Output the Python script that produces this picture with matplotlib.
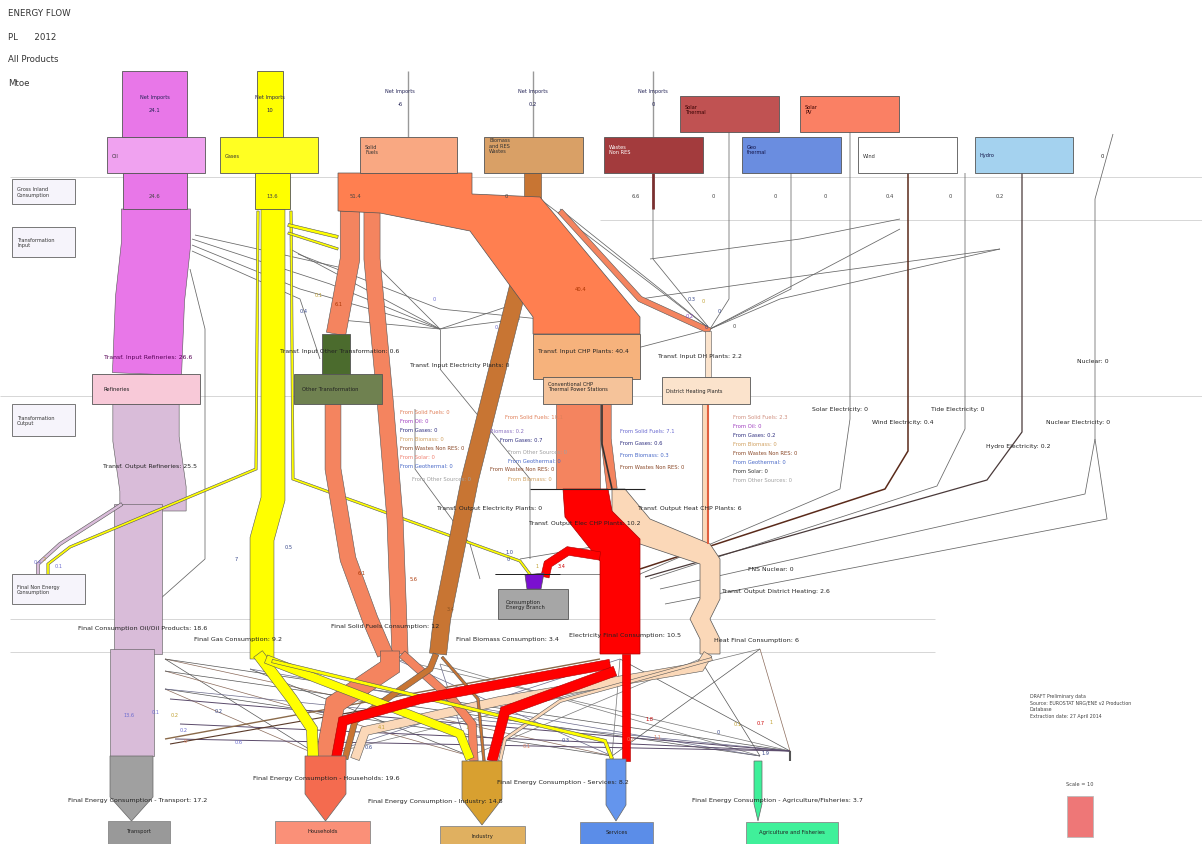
import numpy as np
import matplotlib
matplotlib.use("Agg")
import matplotlib.pyplot as plt
from matplotlib.patches import Polygon, Rectangle

# ---------------- data ----------------
SCALE = 2.6  # px per Mtoe (Scale = 10)
header_lines = ["ENERGY FLOW", "PL      2012", "All Products", "Mtoe"]
row_labels = ["Gross Inland\nConsumption", "Transformation\nInput",
              "Transformation\nOutput", "Final Non Energy\nConsumption"]
source_names = ["Oil", "Gases", "Solid\nFuels", "Biomass\nand RES\nWastes",
                "Wastes\nNon RES", "Solar\nThermal", "Geo\nthermal",
                "Solar\nPV", "Wind", "Hydro"]
net_imports = [24.1, 10, -6, 0.2, 0]
gross_inland_labels = ["24.6", "13.6", "51.4", "0", "6.6", "0", "0", "0", "0.4", "0", "0.2"]
transf_input = {"Refineries": 26.6, "Other Transformation": 0.6,
                "Electricity Plants": 0, "CHP Plants": 40.4, "DH Plants": 2.2}
transf_output = {"Refineries": 25.5, "Electricity Plants": 0,
                 "Elec CHP Plants": 10.2, "Heat CHP Plants": 6,
                 "District Heating": 2.6}
renew_elec = {"Solar Electricity": 0, "Tide Electricity": 0, "Wind Electricity": 0.4,
              "Nuclear Electricity": 0, "Hydro Electricity": 0.2, "Nuclear": 0}
final_by_fuel = {"Oil/Oil Products": 18.6, "Gas": 9.2, "Solid Fuels": 12,
                 "Biomass": 3.4, "Electricity": 10.5, "Heat": 6}
sectors = ["Transport", "Households", "Industry", "Services", "Agriculture and Fisheries"]
sector_label = ["Transport", "Households", "Industry", "Services", "Agriculture/Fisheries"]
sector_values = [17.2, 19.6, 14.8, 8.2, 3.7]
flow_values = {
    "oil_in": 26.6, "oil_out": 25.5, "oil_final": 18.6, "oil_transport": 17.2,
    "oil_nonen": 1.2, "gas_main": 9.2, "gas_side": 0.9, "gas_chp": 1.2,
    "gas_hh": 4.2, "gas_ind": 3.3, "gas_serv": 1.3,
    "solid_chp": 40.4, "solid_dh": 2.2, "solid_a_in": 7.5, "solid_a_out": 6.1, "solid_b": 6.2,
    "solid_hh": 7.4, "solid_ind": 3.2, "bio": 6.6, "bio_hh": 2.3, "bio_ind": 1.0,
    "el_hh": 3.6, "el_ind": 3.8, "el_serv": 3.0, "el_ceb": 3.2,
    "heat_dh": 2.2, "heat_final": 6, "heat_hh": 3.5, "heat_ind": 1.2,
    "chp_solid_out": 17.0, "chp_side": 4.0, "agri": 3.7,
}
from_lists = {
    "elec": ["From Solid Fuels: 0", "From Oil: 0", "From Gases: 0", "From Biomass: 0",
             "From Wastes Non RES: 0", "From Solar: 0", "From Geothermal: 0",
             "From Other Sources: 0"],
    "chp_el": ["From Solid Fuels: 10.1", "Biomass: 0.2", "From Gases: 0.7",
               "From Other Sources: 0", "From Geothermal: 0",
               "From Wastes Non RES: 0", "From Biomass: 0"],
    "chp_heat": ["From Solid Fuels: 7.1", "From Gases: 0.6", "From Biomass: 0.3",
                 "From Wastes Non RES: 0"],
    "dh": ["From Solid Fuels: 2.3", "From Oil: 0", "From Gases: 0.2", "From Biomass: 0",
           "From Wastes Non RES: 0", "From Geothermal: 0", "From Solar: 0",
           "From Other Sources: 0"],
}
from_colors = ["#e0805a", "#a040c0", "#303080", "#d0a060", "#8b4a2a",
               "#f08070", "#4a6ac8", "#a0a0a0"]
source_note = ["DRAFT Preliminary data", "Source: EUROSTAT NRG/ENE v2 Production",
               "Database", "Extraction date: 27 April 2014"]

# ---------------- helpers ----------------
fig = plt.figure(figsize=(12.02, 8.45), dpi=100)
ax = fig.add_axes([0, 0, 1, 1])
ax.set_xlim(0, 1202)
ax.set_ylim(845, 0)
ax.axis("off")

def band(pts, value, color, ec="#555555", lw=0.4, z=2):
    w = value * SCALE
    p = np.array(pts, float)
    n = len(p)
    L, R = [], []
    for i in range(n):
        if i == 0:
            d = p[1] - p[0]
        elif i == n - 1:
            d = p[-1] - p[-2]
        else:
            d1 = p[i] - p[i - 1]; d1 /= np.linalg.norm(d1)
            d2 = p[i + 1] - p[i]; d2 /= np.linalg.norm(d2)
            d = d1 + d2
        d = d / np.linalg.norm(d)
        nr = np.array([-d[1], d[0]])
        s = 1.0
        if 0 < i < n - 1:
            seg = p[i] - p[i - 1]; seg /= np.linalg.norm(seg)
            sn = np.array([-seg[1], seg[0]])
            s = 1.0 / max(0.4, abs(np.dot(nr, sn)))
        L.append(p[i] + nr * w / 2 * s)
        R.append(p[i] - nr * w / 2 * s)
    poly = np.vstack([L, R[::-1]])
    ax.add_patch(Polygon(poly, closed=True, fc=color, ec=ec, lw=lw, zorder=z))

def rect(x, y, w, h, fc, ec="#555555", lw=0.6, z=3):
    ax.add_patch(Rectangle((x, y), w, h, fc=fc, ec=ec, lw=lw, zorder=z))

def poly(pts, fc, ec="#555555", lw=0.5, z=3):
    ax.add_patch(Polygon(pts, closed=True, fc=fc, ec=ec, lw=lw, zorder=z))

def txt(x, y, s, size=4.4, color="#222222", ha="left", va="center", z=6, **kw):
    ax.text(x, y, s, fontsize=size, color=color, ha=ha, va=va, zorder=z,
            family="DejaVu Sans", **kw)

def line(pts, color="#555555", lw=0.6, z=1.5):
    p = np.array(pts, float)
    ax.plot(p[:, 0], p[:, 1], color=color, lw=lw, zorder=z, solid_capstyle="butt")

# ---------------- background separators ----------------
for y, x0, x1 in [(178, 10, 1202), (221, 600, 1202), (397, 0, 1202),
                  (620, 10, 935), (653, 10, 935)]:
    line([(x0, y), (x1, y)], color="#d0d0d0", lw=0.6, z=0.5)

# header
for i, s in enumerate(header_lines):
    txt(8, 14 + i * 23, s, size=6.2, color="#333333")

# row label boxes
for (x, y, w, h), s in zip([(12, 180, 63, 25), (12, 228, 63, 30),
                            (12, 405, 63, 32), (12, 575, 73, 30)], row_labels):
    rect(x, y, w, h, "#f6f4fb", ec="#777777", lw=0.7)
    txt(x + 5, y + h / 2, s, size=3.6, color="#333333")

# ---------------- thin grey network lines ----------------
thin = [
    [(192, 240), (330, 285), (440, 330)], [(192, 246), (300, 290), (440, 330)],
    [(195, 236), (338, 268)], [(192, 252), (300, 300), (320, 360)],
    [(190, 270), (205, 330), (205, 560), (160, 600)],
    [(290, 250), (440, 330)], [(298, 255), (440, 310), (540, 320)],
    [(380, 270), (440, 330)], [(440, 330), (530, 300)], [(440, 330), (520, 320)],
    [(440, 330), (440, 370)], [(440, 330), (330, 320)],
    [(540, 200), (710, 330)], [(560, 210), (710, 330)],
    [(653, 210), (653, 260), (710, 330)], [(729, 133), (729, 300), (710, 330)],
    [(791, 174), (791, 290), (710, 330)], [(900, 230), (710, 330)],
    [(650, 260), (800, 240), (900, 220)], [(640, 300), (780, 280), (1000, 250)],
    [(710, 330), (780, 300), (1000, 250)],
    [(595, 360), (710, 330)],
    [(850, 133), (850, 420), (840, 490), (640, 575)],
    [(965, 174), (965, 430), (937, 487), (650, 580)],
    [(1095, 200), (1095, 440), (1085, 495), (660, 590)],
    [(1095, 440), (1107, 520), (665, 605)],
    [(1113, 135), (1095, 200)],
    [(415, 410), (415, 470), (470, 545), (480, 580)],
    [(440, 370), (530, 480), (530, 560)],
    [(520, 560), (640, 540)], [(495, 575), (640, 575)],
    [(580, 490), (640, 490)],
]
for pts in thin:
    line(pts, color="#666666", lw=0.55)
line([(908, 174), (908, 452), (885, 490), (640, 570)], color="#5a2a1a", lw=1.1)
line([(1022, 174), (1022, 433), (987, 481), (645, 578)], color="#4a3a3a", lw=0.9)
line([(653, 174), (653, 210)], color="#7a3030", lw=2)

# bottom fan lines
fan_src = [(165, 660), (165, 672), (165, 690), (250, 670), (395, 660), (440, 665),
           (620, 660), (700, 660), (760, 650)]
fan_dst = [(320, 757), (470, 757), (612, 757), (760, 757), (790, 752)]
fan_cols = ["#555555", "#6a6a8a", "#8a6a5a", "#777777", "#555555"]
for i, s in enumerate(fan_src):
    for j, d in enumerate(fan_dst):
        if (i + j) % 2 == 0:
            line([s, d], color=fan_cols[(i + j) % 5], lw=0.5)
for s in [(170, 700), (175, 740), (180, 725)]:
    line([s, (790, 752)], color="#5a4a6a", lw=0.7)
line([(165, 740), (600, 660)], color="#8a6a4a", lw=1.0)
line([(170, 745), (600, 670)], color="#5a3a2a", lw=0.8)

# ---------------- oil ----------------
rect(122, 72, 65, 66, "#e877e8")
rect(107, 138, 98, 36, "#f0a2f0")
rect(123, 174, 64, 36, "#e877e8")
band([(156, 210), (156, 245), (150, 300), (147, 375)], flow_values["oil_in"], "#e877e8")
rect(92, 375, 108, 30, "#f8c9d8")
band([(146, 405), (146, 440), (153, 490), (153, 512)], flow_values["oil_out"], "#d9bcd9")
band([(138, 505), (138, 655)], flow_values["oil_final"], "#d9bcd9")
band([(132, 650), (132, 757)], flow_values["oil_transport"], "#d9bcd9")
band([(122, 505), (60, 545), (38, 565), (38, 578)], flow_values["oil_nonen"], "#d9bcd9")

# ---------------- gases ----------------
rect(257, 72, 26, 66, "#ffff00")
rect(220, 138, 98, 36, "#ffff22")
rect(255, 174, 35, 36, "#ffff00")
band([(258, 212), (256, 470), (70, 548), (48, 565), (48, 578)], flow_values["gas_side"], "#ffff00")
band([(291, 212), (293, 480), (520, 562), (532, 578)], flow_values["gas_side"], "#ffff00")
band([(288, 226), (338, 238)], flow_values["gas_chp"], "#ffff00")
band([(288, 234), (338, 250)], flow_values["gas_side"], "#ffff00")
band([(273, 210), (273, 500), (262, 540), (262, 660)], flow_values["gas_main"], "#ffff00")
band([(258, 655), (292, 700), (312, 730), (313, 760)], flow_values["gas_hh"], "#ffff00", z=2.6)
band([(266, 660), (460, 735), (470, 760)], flow_values["gas_ind"], "#ffff00", z=2.6)
band([(272, 662), (605, 742), (612, 760)], flow_values["gas_serv"], "#ffff00", z=2.6)

# ---------------- solid fuels ----------------
rect(360, 138, 97, 36, "#f9a882")
band([(560, 212), (640, 300), (710, 332)], flow_values["solid_dh"], "#f4845f", z=2.3)
poly([(338, 174), (472, 174), (472, 195), (540, 198), (640, 318), (640, 335),
      (533, 335), (533, 318), (470, 232), (380, 214), (338, 212)], "#ff7f50", z=2.4)
band([(350, 212), (350, 260), (336, 335)], flow_values["solid_a_in"], "#f4845f")
band([(372, 212), (372, 260), (385, 400), (395, 520), (400, 655)], flow_values["solid_b"], "#f4845f")
band([(333, 405), (333, 470), (348, 560), (370, 620), (385, 655)], flow_values["solid_a_out"], "#f4845f")
band([(390, 652), (390, 668), (335, 705), (325, 760)], flow_values["solid_hh"], "#f4845f", z=2.5)
band([(402, 655), (452, 700), (472, 725), (474, 762)], flow_values["solid_ind"], "#f4845f", z=2.5)
rect(322, 335, 28, 40, "#4b6b2d")
rect(294, 375, 88, 30, "#6f8150")

# ---------------- biomass ----------------
rect(484, 138, 99, 36, "#d9a066")
band([(533, 174), (533, 212), (520, 280), (470, 480), (442, 620), (438, 655)], flow_values["bio"], "#c87533")
band([(436, 655), (430, 670), (355, 722), (345, 760)], flow_values["bio_hh"], "#c87533", z=2.5)
band([(442, 658), (478, 700), (484, 762)], flow_values["bio_ind"], "#c87533", z=2.5)

# ---------------- other sources ----------------
rect(604, 138, 99, 36, "#a33b3d")
rect(680, 97, 99, 36, "#c05252")
rect(742, 138, 99, 36, "#6a8de0")
rect(800, 97, 99, 36, "#fa8064")
rect(858, 138, 99, 36, "#ffffff")
rect(975, 138, 98, 36, "#a4d2ef")

# ---------------- CHP & DH ----------------
rect(533, 335, 107, 45, "#f6b27c")
rect(543, 378, 89, 27, "#f5c39a")
band([(578, 405), (578, 490)], flow_values["chp_solid_out"], "#f4845f")
band([(606, 405), (606, 440), (612, 490)], flow_values["chp_side"], "#f4845f")
line([(602, 405), (602, 445), (612, 490)], color="#333333", lw=1.2, z=2.2)
# DH input column
band([(708, 332), (708, 378)], flow_values["heat_dh"], "#fbe3cc", z=2.3)
# heat (peach)
poly([(612, 490), (625, 490), (650, 520), (710, 545), (720, 560), (720, 600),
      (710, 620), (720, 640), (720, 655), (700, 655), (700, 640), (690, 620),
      (700, 600), (700, 565), (640, 545), (612, 515)], "#fbd8b8", z=2.2)
band([(705, 405), (705, 545)], flow_values["heat_dh"], "#fbd8b8")
line([(708, 405), (708, 545)], color="#e06040", lw=1.5, z=2.3)
rect(662, 378, 88, 27, "#fbe3cc")
band([(708, 655), (700, 668), (500, 702), (365, 732), (355, 760)], flow_values["heat_hh"], "#fbd8b8", z=2.3)
band([(712, 660), (560, 702), (505, 740), (500, 762)], flow_values["heat_ind"], "#fbd8b8", z=2.3)
# electricity (red)
poly([(563, 490), (608, 490), (612, 512), (640, 540), (640, 655), (600, 655),
      (600, 562), (565, 518)], "#ff0000", ec="#aa0000", z=2.7)
band([(600, 557), (568, 552), (548, 565), (545, 578)], flow_values["el_ceb"], "#ff0000", ec="#aa0000", z=2.7)
band([(610, 665), (420, 700), (343, 722), (336, 760)], flow_values["el_hh"], "#ff0000", ec="#aa0000", z=2.7)
band([(615, 672), (505, 712), (492, 762)], flow_values["el_ind"], "#ff0000", ec="#aa0000", z=2.7)
band([(626, 655), (626, 762)], flow_values["el_serv"], "#ff0000", ec="#aa0000", z=2.7)
line([(530, 490), (645, 490)], color="#222222", lw=0.8, z=2.8)
# consumption energy branch
rect(498, 590, 70, 30, "#a6a6a6")
poly([(525, 576), (544, 574), (541, 590), (527, 590)], "#7a10d0", z=3)
line([(495, 575), (560, 575)], color="#222222", lw=0.7, z=3)
txt(506, 605, "Consumption\nEnergy Branch", size=3.8)

# ---------------- sector arrows ----------------
arrows = [(110, 153, 757, 798, 822, "#a0a0a0"), (305, 346, 757, 795, 822, "#f46b4f"),
          (462, 502, 762, 800, 826, "#d8a030"), (606, 626, 760, 806, 822, "#6495ed"),
          (754, 762, 762, 805, 822, "#3ef09a")]
for (x0, x1, y0, y1, yt, c) in arrows:
    poly([(x0, y0), (x1, y0), (x1, y1), ((x0 + x1) / 2, yt), (x0, y1)], c, ec="#666666")
boxes = [(108, 822, 62, 23, "#999999"), (275, 822, 95, 23, "#fa9078"),
         (440, 827, 85, 18, "#e0b060"), (580, 823, 73, 22, "#5b8de8"),
         (746, 823, 92, 22, "#40f09a")]
for (x, y, w, h, c), s in zip(boxes, sectors):
    rect(x, y, w, h, c, ec="#888888")
    txt(x + w / 2, y + 10, s, size=3.8, ha="center")
line([(790, 752), (790, 762)], color="#555555", lw=1.5)

# ---------------- text labels ----------------
ni_pos = [(155, 98), (270, 98), (400, 92), (533, 92), (653, 92)]
for (x, y), v in zip(ni_pos, net_imports):
    txt(x, y, "Net Imports", size=3.6, ha="center", color="#222255")
    txt(x, y + 12, str(v), size=3.8, ha="center", color="#222255")
for x in [408, 533, 653]:
    line([(x, 72), (x, 138)], color="#999999", lw=1.0, z=1)
src_txt = [(112, 156), (225, 156), (365, 150), (489, 146), (609, 150), (685, 110),
           (747, 150), (805, 110), (863, 156), (980, 156)]
src_col = ["#333333", "#333333", "#333333", "#333333", "#ffffff", "#330000",
           "#111144", "#330000", "#333333", "#111144"]
for (x, y), s, c in zip(src_txt, source_names, src_col):
    txt(x, y, s, size=3.6, color=c, va="center")
gi_x = [155, 272, 355, 506, 636, 713, 775, 825, 890, 950, 1000]
for x, s in zip(gi_x, gross_inland_labels):
    txt(x, 196, s, size=3.8, ha="center", color="#444444")
txt(1102, 157, "0", size=3.8, ha="center")

txt(148, 358, "Transf. Input Refineries: %g" % transf_input["Refineries"], color="#550055", ha="center")
txt(340, 352, "Transf. Input Other Transformation: %g" % transf_input["Other Transformation"], ha="center")
txt(460, 366, "Transf. Input Electricity Plants: %g" % transf_input["Electricity Plants"], ha="center")
txt(583, 352, "Transf. Input CHP Plants: %g" % transf_input["CHP Plants"], ha="center")
txt(700, 357, "Transf. Input DH Plants: %g" % transf_input["DH Plants"], ha="center")
txt(575, 290, "40.4", size=3.8, color="#aa3300")
txt(103, 390, "Refineries", size=3.8)
txt(302, 390, "Other Transformation", size=3.8)
txt(548, 387, "Conventional CHP\nThermal Power Stations", size=3.6)
txt(666, 392, "District Heating Plants", size=3.6)

txt(150, 467, "Transf. Output Refineries: %g" % transf_output["Refineries"], ha="center")
txt(490, 509, "Transf. Output Electricity Plants: %g" % transf_output["Electricity Plants"], ha="center")
txt(585, 524, "Transf. Output Elec CHP Plants: %g" % transf_output["Elec CHP Plants"], ha="center")
txt(690, 509, "Transf. Output Heat CHP Plants: %g" % transf_output["Heat CHP Plants"], ha="center")
txt(776, 592, "Transf. Output District Heating: %g" % transf_output["District Heating"], ha="center")
txt(771, 570, "FNS Nuclear: 0", ha="center")

rpos = [(840, 410), (958, 410), (903, 423), (1078, 423), (1018, 447), (1093, 362)]
for (x, y), (k, v) in zip(rpos, renew_elec.items()):
    txt(x, y, "%s: %g" % (k, v), ha="center")

for i, s in enumerate(from_lists["elec"]):
    txt(400 + (12 if i == 7 else 0), 413 + i * 9 + (4 if i == 7 else 0), s, size=3.8, color=from_colors[i])
chp_pos = [(505, 418), (490, 432), (500, 441), (508, 453), (508, 462), (490, 470), (508, 480)]
chp_cols = ["#e0805a", "#8a70c0", "#303080", "#a0a0a0", "#4a6ac8", "#8b4a2a", "#d0a060"]
for (x, y), s, c in zip(chp_pos, from_lists["chp_el"], chp_cols):
    txt(x, y, s, size=3.8, color=c)
for i, s in enumerate(from_lists["chp_heat"]):
    txt(620, 432 + i * 12, s, size=3.8, color=["#6a6ad0", "#303080", "#4a6ac8", "#8b4a2a"][i])
dh_cols = ["#d09080", "#a040c0", "#303080", "#d0a060", "#8b4a2a", "#4a6ac8", "#333333", "#a0a0a0"]
for i, s in enumerate(from_lists["dh"]):
    txt(733, 418 + i * 9, s, size=3.8, color=dh_cols[i])

fin_pos = [(143, 629), (238, 640), (385, 627), (507, 640), (625, 636), (757, 641)]
fin_fmt = ["Final Consumption %s: %g", "Final %s Consumption: %g",
           "Final %s Consumption: %g", "Final %s Consumption: %g",
           "%s Final Consumption: %g", "%s Final Consumption: %g"]
for (x, y), f, (k, v) in zip(fin_pos, fin_fmt, final_by_fuel.items()):
    txt(x, y, f % (k, v), size=4.6, ha="center")

sec_pos = [(138, 801), (326, 779), (435, 802), (563, 783), (777, 801)]
for (x, y), s, v in zip(sec_pos, sector_label, sector_values):
    txt(x, y, "Final Energy Consumption - %s: %g" % (s, v), size=4.6, ha="center")

small_nums = [(300, 312, "0.4", "#334488"), (315, 296, "0.1", "#c0a030"), (335, 305, "6.1", "#aa3300"),
              (433, 300, "0", "#6a6ad0"), (495, 328, "0", "#6a6ad0"), (688, 300, "0.3", "#334488"),
              (702, 302, "0", "#c0a030"), (718, 312, "0", "#334488"), (686, 317, "0.2", "#8a40c0"),
              (705, 328, "0", "#334488"), (733, 327, "0", "#444444"),
              (34, 563, "0.4", "#6a6ad0"), (43, 560, "2", "#c0a030"), (55, 567, "0.1", "#6a6ad0"),
              (235, 560, "7", "#334488"), (285, 548, "0.5", "#334488"), (358, 574, "6.1", "#aa3300"),
              (410, 580, "5.6", "#aa3300"), (447, 610, "3.4", "#8a5020"), (506, 553, "1.0", "#334488"),
              (507, 560, "0", "#334488"), (535, 567, "1", "#c0a030"), (558, 567, "3.4", "#cc0000"),
              (123, 716, "13.6", "#6a6ad0"), (152, 713, "0.1", "#6a6ad0"), (171, 716, "0.2", "#c0a030"),
              (180, 731, "0.2", "#6a6ad0"), (184, 742, "0", "#e08060"), (235, 743, "0.6", "#6a6ad0"),
              (365, 748, "0.6", "#334488"), (378, 728, "4.1", "#c0a030"), (465, 728, "1", "#c0a030"),
              (523, 747, "0.1", "#e08060"), (562, 741, "0.3", "#334488"), (627, 740, "0.2", "#e08060"),
              (645, 720, "1.8", "#cc0000"), (653, 738, "1.1", "#e08060"), (717, 733, "0", "#334488"),
              (734, 725, "0.1", "#c0a030"), (757, 724, "0.7", "#cc0000"), (770, 723, "1", "#c0a030"),
              (762, 754, "1.9", "#334488"), (215, 712, "0.2", "#334488")]
for x, y, s, c in small_nums:
    txt(x, y, s, size=3.6, color=c)

for i, s in enumerate(source_note):
    txt(1030, 697 + i * 6.5, s, size=3.4, color="#444444")
txt(1080, 785, "Scale = 10", size=3.6, ha="center", color="#444444")
rect(1067, 797, 10 * SCALE, 41, "#ee7777", ec="#bbbbbb")

fig.savefig("out.png", dpi=100, facecolor="white")
